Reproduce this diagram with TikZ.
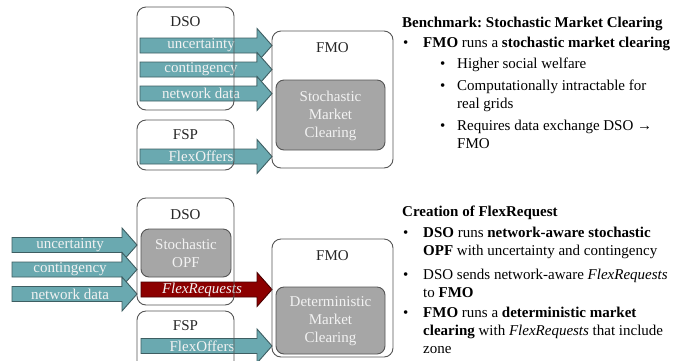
\documentclass[tikz,border=0pt]{standalone}
\usepackage{fontspec}
\setmainfont{Liberation Serif}
\frenchspacing
\definecolor{teal1}{HTML}{6AA9B0}
\definecolor{tealdk}{HTML}{3E5E62}
\definecolor{red1}{HTML}{8C0000}
\definecolor{reddk}{HTML}{4A0000}
\definecolor{boxdk}{HTML}{555555}
\definecolor{gray1}{HTML}{A6A6A6}
\definecolor{txtlt}{HTML}{F2F2F2}
\newcommand\flowarrow[5]{% x1, x2, yc, fill, outline
  \filldraw[fill=#4,draw=#5,line width=0.9pt,line join=miter]
    (#1,#3-7.5) -- (#2-15,#3-7.5) -- (#2-15,#3-17) -- (#2,#3) -- (#2-15,#3+17)
    -- (#2-15,#3+7.5) -- (#1,#3+7.5) -- cycle;}
\begin{document}
\begin{tikzpicture}[x=1pt,y=-1pt,
  every node/.style={font=\fontsize{15}{18}\selectfont},
  outerbox/.style={draw=boxdk,line width=0.9pt,rounded corners=9pt},
  graybox/.style={draw=boxdk,fill=gray1,line width=0.9pt,rounded corners=8pt},
  boxlabel/.style={text=black!85,inner sep=0},
  arrowtext/.style={text=txtlt,inner sep=0},
  graytext/.style={text=txtlt,align=center,inner sep=0},
  rt/.style={anchor=base west,inner sep=0,text=black},
  bul/.style={anchor=base west,inner sep=0,text=black}]
\clip (0,0) rectangle (699,360);
\fill[white] (0,0) rectangle (699,360);

% ===== Top panel =====
\flowarrow{140}{272}{45.5}{teal1}{tealdk}
\flowarrow{140}{272}{69.5}{teal1}{tealdk}
\flowarrow{140}{272}{93.5}{teal1}{tealdk}
\flowarrow{140}{272}{156.5}{teal1}{tealdk}
\node[arrowtext] (tunc) at (201,45.5) {uncertainty};
\node[arrowtext] (tcon) at (201,69.5) {contingency};
\node[arrowtext] (tnet) at (201,93.5) {network data};
\node[arrowtext] (tfo) at (201,156.5) {FlexOffers};

\draw[outerbox] (137,7) rectangle (234,110);
\node[boxlabel] (tdso) at (185.5,22) {DSO};
\draw[outerbox] (137,120) rectangle (234,170);
\node[boxlabel] (tfsp) at (185.5,135) {FSP};
\draw[outerbox] (272,31) rectangle (393,168);
\node[boxlabel] (tfmo) at (332.5,47.5) {FMO};
\draw[graybox] (276,80) rectangle (385,150);
\node[graytext] (tsmc) at (330.5,115.5) {Stochastic\\Market\\Clearing};

% ===== Bottom panel =====
\flowarrow{12}{137}{245}{teal1}{tealdk}
\flowarrow{12}{137}{269.5}{teal1}{tealdk}
\flowarrow{12}{137}{294}{teal1}{tealdk}
\node[arrowtext] (bunc) at (70,245) {uncertainty};
\node[arrowtext] (bcon) at (70,269.5) {contingency};
\node[arrowtext] (bnet) at (70,294) {network data};
\flowarrow{141}{272}{289.5}{red1}{reddk}
\node[arrowtext] (bfr) at (202,289.5) {\itshape FlexRequests};
\flowarrow{141}{272}{346}{teal1}{tealdk}
\node[arrowtext] (bfo) at (202,346) {FlexOffers};

\draw[outerbox] (137,198) rectangle (234,305);
\node[boxlabel] (bdso) at (185.5,214.5) {DSO};
\draw[graybox] (141,229) rectangle (231,277);
\node[graytext] (bopf) at (186,253.5) {Stochastic\\OPF};
\draw[outerbox] (137,311) rectangle (234,380);
\node[boxlabel] (bfsp) at (185.5,326) {FSP};
\draw[outerbox] (272,239) rectangle (393,357);
\node[boxlabel] (bfmo) at (332.5,256) {FMO};
\draw[graybox] (276,287) rectangle (385,354);
\node[graytext] (bdmc) at (330.5,321.5) {Deterministic\\Market\\Clearing};

% ===== Right text, top =====
\node[rt] (h1) at (402,27) {\bfseries Benchmark: Stochastic Market Clearing};
\node[bul] (b1) at (403,47) {•};
\node[rt] (l1) at (423,47) {\textbf{FMO} runs a \textbf{stochastic market clearing}};
\node[bul] (b2) at (440,68) {•};
\node[rt] (l2) at (457,68) {Higher social welfare};
\node[bul] (b3) at (440,90) {•};
\node[rt] (l3) at (457,90) {Computationally intractable for};
\node[rt] (l3b) at (457,108) {real grids};
\node[bul] (b4) at (440,130) {•};
\node[rt] (l4) at (457,130) {Requires data exchange DSO →};
\node[rt] (l4b) at (457,148) {FMO};

% ===== Right text, bottom =====
\node[rt] (h2) at (402,216) {\bfseries Creation of FlexRequest};
\node[bul] (c1) at (403,237) {•};
\node[rt] (m1) at (423,237) {\textbf{DSO} runs \textbf{network-aware stochastic}};
\node[rt] (m1b) at (423,255) {\textbf{OPF} with uncertainty and contingency};
\node[bul] (c2) at (403,279) {•};
\node[rt] (m2) at (423,279) {DSO sends network-aware \textit{FlexRequests}};
\node[rt] (m2b) at (423,297) {to \textbf{FMO}};
\node[bul] (c3) at (403,317) {•};
\node[rt] (m3) at (423,317) {\textbf{FMO} runs a \textbf{deterministic market}};
\node[rt] (m3b) at (423,335) {\textbf{clearing} with \textit{FlexRequests} that include};
\node[rt] (m3c) at (423,353) {zone};
\end{tikzpicture}
\end{document}
